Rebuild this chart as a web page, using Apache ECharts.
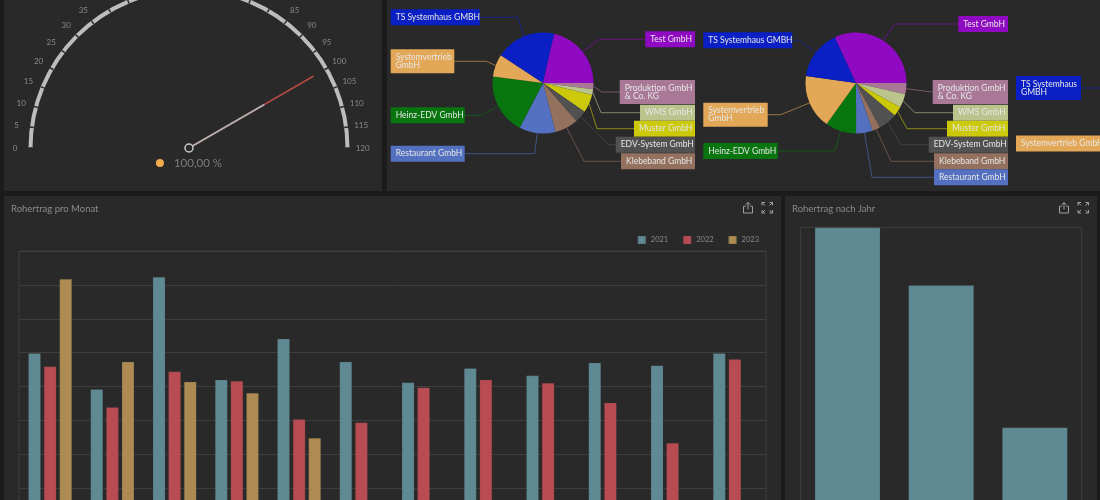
<!DOCTYPE html>
<html>
<head>
<meta charset="utf-8">
<title>Rohertrag Dashboard</title>
<script src="https://cdn.jsdelivr.net/npm/echarts@6/dist/echarts.min.js"></script>
<style>
  html, body { margin: 0; height: 100%; overflow: hidden; background: #1b1b1b; }
  .panel { position: absolute; background: #292929; overflow: hidden; }
  .panel > div { position: absolute; left: 0; top: 0; }
</style>
</head>
<body>
<div class="panel" style="left:4px;top:0;width:378px;height:191px"><div id="gauge" style="width:378px;height:191px"></div></div>
<div class="panel" style="left:387px;top:0;width:713px;height:191px"><div id="pies" style="width:1000px;height:191px"></div></div>
<div class="panel" style="left:4px;top:196px;width:777px;height:304px"><div id="monthBars" style="width:777px;height:380px"></div></div>
<div class="panel" style="left:785px;top:196px;width:312px;height:304px"><div id="yearBars" style="width:312px;height:400px"></div></div>

<script>
// gauge
var gaugeValue = 100;

// pies (clockwise from 3 o'clock)
var pieNames = ['Produktion GmbH\n& Co. KG', 'WMS GmbH', 'Muster GmbH', 'EDV-System GmbH', 'Klebeband GmbH',
  'Restaurant GmbH', 'Heinz-EDV GmbH', 'Systemvertrieb\nGmbH', 'TS Systemhaus GMBH', 'Test GmbH'];
var pie1Values = [2.0, 1.8, 5.8, 3.9, 7.5, 11.6, 19.4, 7.2, 19.3, 21.4];
var pie2Values = [3.6, 4.4, 3.1, 6.1, 2.5, 5.3, 9.9, 17.4, 15.9, 31.9];
// third pie is cut off by the window, only these two labels can be seen
var pie3Names = ['TS Systemhaus\nGMBH', 'Systemvertrieb GmbH'];
var pie3Values = [20, 30];

// bars
var months = ['Jan', 'Feb', 'Mrz', 'Apr', 'Mai', 'Jun', 'Jul', 'Aug', 'Sep', 'Okt', 'Nov', 'Dez'];
var values2021 = [59.9, 49.3, 82.4, 52.1, 64.2, 57.4, 51.3, 55.5, 53.3, 57.1, 56.3, 59.9];
var values2022 = [56.0, 44.0, 54.5, 51.7, 40.4, 39.5, 49.8, 52.1, 51.1, 45.3, 33.4, 58.1];
var values2023 = [81.8, 57.4, 51.5, 48.2, 34.9, null, null, null, null, null, null, null];
var years = ['2021', '2022', '2023'];
var yearTotals = [680, 567, 289];

var panelBg = '#292929';
var textGray = '#8a8a8a';
var gridGray = '#3e3e3e';
var fontName = 'Lato, sans-serif';
var sliceColors = ['#a97897', '#bcc48e', '#cbc90a', '#515151', '#94705f', '#5470c0', '#08750f', '#e3a857', '#0a20c4', '#8f0ac2'];
var barColors = { '2021': '#5f8a94', '2022': '#b94c52', '2023': '#ad8b52' };

var shareIcon = 'path://M7 10V1M4 4L7 1L10 4M4 6H1V15H13V6H10';
var fullIcon = 'path://M1 1L5 1M1 1L1 5M1 1L5 5M15 1L11 1M15 1L15 5M15 1L11 5M1 15L5 15M1 15L1 11M1 15L5 11M15 15L11 15M15 15L15 11M15 15L11 11';

function panelToolbox() {
  return {
    right: 6, top: 4, itemSize: 10.5, itemGap: 4.5, padding: 0,
    iconStyle: { color: 'none', borderColor: '#a0a0a0', borderWidth: 1 },
    feature: {
      myShare: { show: true, title: '', icon: shareIcon, onclick: function () {} },
      myFull: { show: true, title: '', icon: fullIcon, onclick: function () {} }
    }
  };
}

function panelTitle(text) {
  return { text: text, left: 7, top: 8, padding: 0, textStyle: { color: textGray, fontSize: 9.5, fontWeight: 'normal', fontFamily: fontName } };
}

// ---- gauge ----
// the gauge always anchors tick labels on their outer edge, the padding below
// pulls each one back so that it sits centred on the label circle
var gaugeMax = 120;
var gaugeSteps = 24;
var labelAnchor = 190;
var labelCircle = 174;
var gaugeLabelRich = {};
for (var s = 0; s <= gaugeSteps; s++) {
  var tickValue = gaugeMax / gaugeSteps * s;
  var angle = tickValue / gaugeMax * Math.PI;
  var ux = Math.cos(angle);
  var uy = Math.sin(angle);
  var halfText = String(tickValue).length * 2.2;
  var pull = labelAnchor - labelCircle;
  var side = Math.abs(ux) > 0.4 ? Math.abs(ux) * pull - halfText : 0;
  var down = uy > 0.8 ? uy * pull - 4 : 2 * uy * pull;
  gaugeLabelRich['t' + s] = {
    color: textGray, fontSize: 8, fontFamily: fontName,
    padding: [Math.max(down, 0), ux < 0 ? side : 0, 0, ux > 0 ? side : 0]
  };
}

var gaugeChart = echarts.init(document.getElementById('gauge'));
var gaugeBase = { type: 'gauge', center: [185, 148], radius: 160.5, startAngle: 180, endAngle: 0, min: 0, max: gaugeMax, splitNumber: gaugeSteps, animation: false };
gaugeChart.setOption({
  animation: false,
  series: [
    Object.assign({}, gaugeBase, {
      axisLine: { lineStyle: { width: 4, color: [[1, '#bdbdbd']] } },
      axisTick: { show: false },
      splitLine: { distance: -4, length: 4, lineStyle: { color: panelBg, width: 1.5 } },
      axisLabel: {
        distance: 160.5 - labelAnchor,
        formatter: function (v) { return '{t' + Math.round(v / gaugeMax * gaugeSteps) + '|' + v + '}'; },
        rich: gaugeLabelRich
      },
      pointer: { icon: 'rect', length: 144, width: 1.5, itemStyle: { color: '#b54a42' } },
      anchor: { show: false },
      title: { show: false },
      detail: { show: false },
      data: [{ value: gaugeValue }]
    }),
    Object.assign({}, gaugeBase, {
      axisLine: { show: false },
      axisTick: { show: false },
      splitLine: { show: false },
      axisLabel: { show: false },
      pointer: { icon: 'rect', length: 87, width: 1.8, itemStyle: { color: '#b0b0b0' } },
      anchor: { show: true, showAbove: true, size: 8, itemStyle: { color: panelBg, borderColor: '#c8c8c8', borderWidth: 1.5 } },
      title: { show: false },
      detail: {
        offsetCenter: [0, 15],
        formatter: function (v) { return '{dot| }{val|' + v.toFixed(2).replace('.', ',') + ' %}'; },
        rich: {
          dot: { width: 8, height: 8, borderRadius: 4, backgroundColor: '#f2ab4c' },
          val: { color: '#7d7d7d', fontSize: 11.5, fontWeight: 'normal', fontFamily: fontName, padding: [0, 0, 0, 10] }
        }
      },
      data: [{ value: gaugeValue }]
    })
  ]
});

// ---- pies ----
// label boxes in window pixels: left, top, width, height, length of the straight bit of the leader
var pieLeft = 387;
var boxes1 = [
  [619.7, 80, 75.3, 24, 18], [640, 104.7, 55, 16, 39], [634, 120.7, 61, 16, 37], [615.7, 136.7, 79.3, 16, 7], [621, 153.3, 74, 16, 37],
  [390.7, 145.7, 74, 16, 70], [390.7, 107.3, 74, 16, 16], [390.7, 49.3, 63.6, 24, 32], [390.7, 9.3, 89, 16, 38], [645.3, 31.3, 49.7, 16, 46]
];
var boxes2 = [
  [932.7, 80, 75.3, 24, 1], [953, 104.7, 55, 16, 38], [947, 120.7, 61, 16, 40], [928.7, 136.7, 79.3, 16, 28], [934, 153.3, 74, 16, 43],
  [934, 169.3, 74, 16, 62], [703.3, 143, 74.4, 16, 57], [703.3, 102.7, 64.4, 24, 13], [703.3, 32.3, 89, 16, 7], [958.3, 16, 49.7, 16, 64]
];
var boxes3 = [[1016, 76, 65, 24, 30], [1016, 135.5, 100, 16, 30]];

function pieSeries(names, values, colors, boxes, cx) {
  return {
    type: 'pie',
    center: [cx - pieLeft, 83],
    radius: 50.5,
    startAngle: 0,
    clockwise: true,
    avoidLabelOverlap: false,
    animation: false,
    data: names.map(function (name, i) {
      return {
        name: name,
        value: values[i],
        itemStyle: { color: colors[i] },
        label: { width: boxes[i][2] - 10, overflow: 'none', backgroundColor: colors[i] }
      };
    }),
    label: {
      show: true, position: 'outside', formatter: '{b}', color: '#e6e6e6', align: 'left',
      fontSize: 8.5, lineHeight: 8, padding: [4, 5], fontFamily: fontName
    },
    labelLine: { show: true, length: 10, length2: 10, lineStyle: { width: 1, opacity: 0.6 } },
    labelLayout: function (params) {
      var b = boxes[params.dataIndex];
      var x = b[0] - pieLeft;
      var onLeft = b[0] < cx;
      var endX = onLeft ? x + b[2] : x;
      var endY = b[1] + b[3] / 2;
      var start = params.labelLinePoints[0];
      return {
        x: x, y: b[1], align: 'left', verticalAlign: 'top',
        labelLinePoints: [start, [onLeft ? endX + b[4] : endX - b[4], endY], [endX, endY]]
      };
    }
  };
}

var pieChart = echarts.init(document.getElementById('pies'));
pieChart.setOption({
  animation: false,
  series: [
    pieSeries(pieNames, pie1Values, sliceColors, boxes1, 543),
    pieSeries(pieNames, pie2Values, sliceColors, boxes2, 856),
    pieSeries(pie3Names, pie3Values, [sliceColors[8], sliceColors[7]], boxes3, 1169)
  ]
});

// ---- Rohertrag pro Monat ----
function monthSeries(name, values) {
  return {
    name: name, type: 'bar', data: values, barWidth: 13, barGap: '20%', animation: false,
    itemStyle: { color: barColors[name], borderColor: 'rgba(60,60,60,0.2)', borderWidth: 1 }
  };
}
var monthChart = echarts.init(document.getElementById('monthBars'));
monthChart.setOption({
  animation: false,
  title: panelTitle('Rohertrag pro Monat'),
  toolbox: panelToolbox(),
  legend: {
    data: years, right: 22, top: 39, padding: 0, itemWidth: 8, itemHeight: 8, itemGap: 14, icon: 'rect',
    textStyle: { color: textGray, fontSize: 7.5, fontFamily: fontName }
  },
  grid: { left: 15, top: 55, width: 747, height: 305, show: true, borderColor: gridGray, borderWidth: 1, backgroundColor: 'transparent' },
  xAxis: { type: 'category', data: months, axisLine: { show: false }, axisTick: { show: false }, axisLabel: { show: false } },
  yAxis: { type: 'value', min: 0, max: 90, interval: 10, axisLine: { show: false }, axisTick: { show: false }, axisLabel: { show: false }, splitLine: { lineStyle: { color: gridGray, width: 1 } } },
  series: [monthSeries('2021', values2021), monthSeries('2022', values2022), monthSeries('2023', values2023)]
});

// ---- Rohertrag nach Jahr ----
var yearChart = echarts.init(document.getElementById('yearBars'));
yearChart.setOption({
  animation: false,
  title: panelTitle('Rohertrag nach Jahr'),
  toolbox: panelToolbox(),
  grid: { left: 15.7, top: 31.3, width: 281, height: 347.7, show: true, borderColor: gridGray, borderWidth: 1, backgroundColor: 'transparent' },
  xAxis: { type: 'category', data: years, axisLine: { show: false }, axisTick: { show: false }, axisLabel: { show: false } },
  yAxis: { type: 'value', min: 0, max: 680, axisLine: { show: false }, axisTick: { show: false }, axisLabel: { show: false }, splitLine: { show: false } },
  series: [{
    type: 'bar', data: yearTotals, barWidth: 66, animation: false,
    itemStyle: { color: '#5f8a94', borderColor: 'rgba(60,60,60,0.2)', borderWidth: 1 }
  }]
});
</script>
</body>
</html>
